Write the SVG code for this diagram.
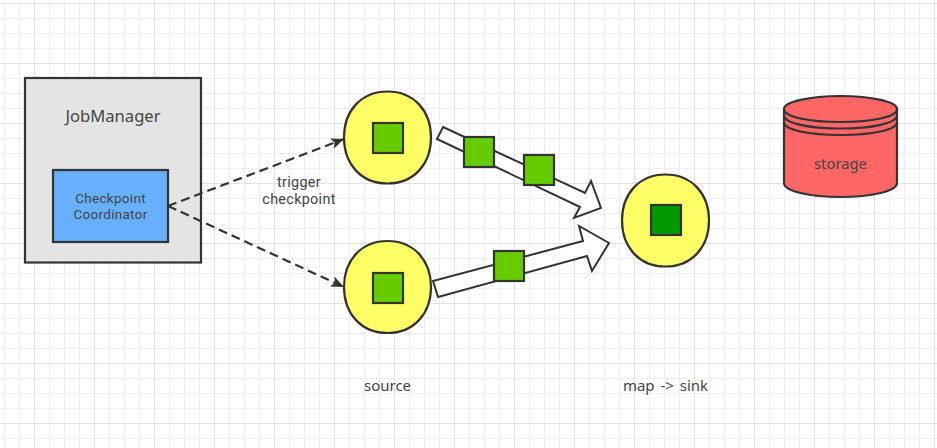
<svg xmlns="http://www.w3.org/2000/svg" width="937" height="448" viewBox="0 0 937 448">
<defs>
<pattern id="grid" width="60" height="60" patternUnits="userSpaceOnUse" x="34" y="3">
<rect width="60" height="60" fill="#fff"/>
<path d="M15.500 0V60M30.500 0V60M45.500 0V60M0 15.500H60M0 30.500H60M0 45.500H60" stroke="#eee" stroke-width="1" fill="none"/>
<path d="M.5 0V60M0 .5H60" stroke="#e2e2e2" stroke-width="1" fill="none"/>
</pattern>
<marker id="head" markerUnits="userSpaceOnUse" markerWidth="14" markerHeight="12" refX="13" refY="5.500" orient="auto">
<path d="M0 0L13 5.500L0 11L3 5.500Z" fill="#333"/>
</marker>
<path id="blob" d="M-43.500 0C-43.500 -27 -26 -46 0 -46S43.500 -27 43.500 0S26 46 0 46S-43.500 27 -43.500 0Z"/>
</defs>
<style>
.s{stroke:#333;stroke-width:2.200}
.t{font-family:"Noto Sans","Open Sans","Liberation Sans",sans-serif;fill:#444;text-anchor:middle}
.r{font-family:Roboto,"Liberation Sans",sans-serif;fill:#444;text-anchor:middle;letter-spacing:.3px}
.p{fill:#66cc00;stroke:#333;stroke-width:2.200}
.y{fill:#ffff66;stroke:#333;stroke-width:2.200}
.a{fill:#fff;stroke:#333;stroke-width:2;stroke-linejoin:miter}
</style>
<rect width="937" height="448" fill="url(#grid)"/>
<g id="jobmanager">
<rect x="25" y="78" width="176" height="184.500" fill="#e4e4e4" class="s"/>
<text x="113" y="122" class="t" font-size="16.600">JobManager</text>
</g>
<g id="coordinator">
<rect x="53" y="170" width="115" height="72" fill="#66b0ff" class="s"/>
<text x="110.500" y="203" class="r" font-size="13.500">Checkpoint</text>
<text x="110.500" y="219" class="r" font-size="13.500">Coordinator</text>
</g>
<g id="connectors">
<path d="M168 206L344 139" fill="none" stroke="#333" stroke-width="2.200" stroke-dasharray="9 5" marker-end="url(#head)"/>
<path d="M168 206L344 287" fill="none" stroke="#333" stroke-width="2.200" stroke-dasharray="9 5" marker-end="url(#head)"/>
<path class="a" d="M443 127L585 193L591 181L601 208L574 218L580 207L437 139Z"/>
<path class="a" d="M433 281L583 241L579 226L609 243L592 271L587 256L438 297Z"/>
</g>
<g id="trigger-label">
<text x="299" y="187" class="r" font-size="14.400">trigger</text>
<text x="299" y="204" class="r" font-size="14.400">checkpoint</text>
</g>
<g id="source-top">
<use href="#blob" x="387.500" y="137.500" class="y"/>
<rect x="373" y="123" width="30" height="30" class="p"/>
</g>
<g id="source-bottom">
<use href="#blob" x="387.500" y="287" class="y"/>
<rect x="373" y="273" width="30" height="30" class="p"/>
</g>
<g id="sink">
<use href="#blob" x="665.500" y="220.500" class="y"/>
<rect x="651" y="205" width="30" height="30" fill="#009900" class="s"/>
</g>
<g id="record-1"><rect x="464" y="137" width="30" height="30" class="p"/></g>
<g id="record-2"><rect x="524" y="155" width="30" height="30" class="p"/></g>
<g id="record-3"><rect x="494" y="251" width="30" height="30" class="p"/></g>
<g id="storage">
<path d="M784 109V183C784 191 809 197 840.500 197S897 191 897 183V109C897 102 872 96 840.500 96S784 102 784 109Z" fill="#ff6666" class="s"/>
<path d="M784 109C784 117 809 122 840.500 122S897 117 897 109M784 115.500C784 123 809 128.500 840.500 128.500S897 123 897 115.500M784 122C784 130 809 135 840.500 135S897 130 897 122" fill="none" class="s"/>
<text x="840.500" y="169" class="t" font-size="14.800">storage</text>
</g>
<g id="source-label"><text x="387.500" y="391" class="t" font-size="15">source</text></g>
<g id="sink-label"><text x="665.500" y="391" class="t" font-size="15" word-spacing="2">map -&gt; sink</text></g>
</svg>
